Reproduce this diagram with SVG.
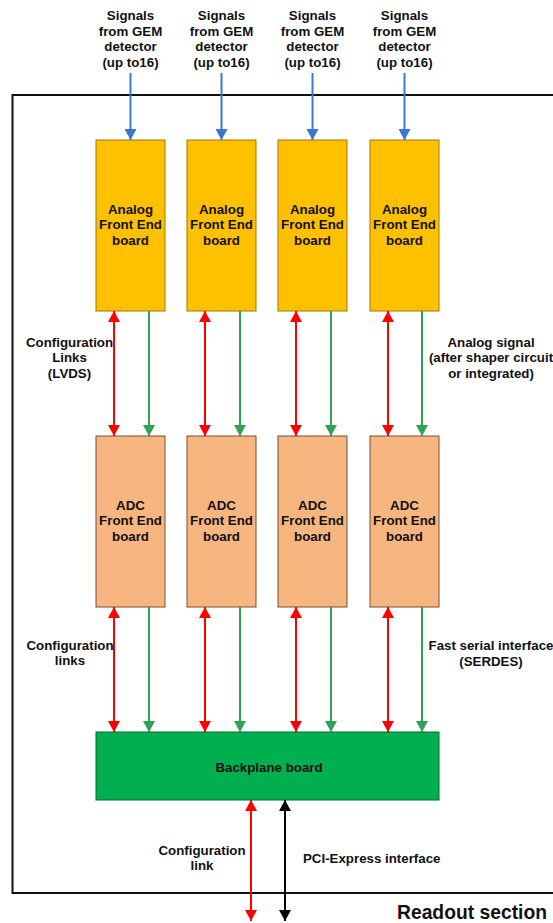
<svg xmlns="http://www.w3.org/2000/svg" width="553" height="923" viewBox="0 0 553 923">
<style>
text{font-family:"Liberation Sans",Arial,sans-serif;font-weight:bold;font-size:13.3px;fill:#111;text-anchor:middle}
.afe{fill:#FFC000;stroke:#9C7A00;stroke-width:1}
.adc{fill:#F7B580;stroke:#7A5030;stroke-width:1}
.bp{fill:#00B050;stroke:#006B30;stroke-width:1}
.red{stroke:#FF0000;stroke-width:2;fill:none}
.grn{stroke:#2EA354;stroke-width:2;fill:none}
.blu{stroke:#3A76D2;stroke-width:2;fill:none}
.blk{stroke:#000;stroke-width:2;fill:none}
</style>
<defs>
<marker id="mr" markerUnits="userSpaceOnUse" markerWidth="12" markerHeight="12" refX="11" refY="6" orient="auto-start-reverse"><path d="M0,0 L11,6 L0,12 z" fill="#FF0000"/></marker>
<marker id="mg" markerUnits="userSpaceOnUse" markerWidth="12" markerHeight="12" refX="11" refY="6" orient="auto"><path d="M0,0 L11,6 L0,12 z" fill="#2EA354"/></marker>
<marker id="mb" markerUnits="userSpaceOnUse" markerWidth="12" markerHeight="12" refX="11" refY="6" orient="auto"><path d="M0,0 L11,6 L0,12 z" fill="#3A76D2"/></marker>
<marker id="mk" markerUnits="userSpaceOnUse" markerWidth="12" markerHeight="12" refX="11" refY="6" orient="auto-start-reverse"><path d="M0,0 L11,6 L0,12 z" fill="#000"/></marker>
</defs>
<path id="frame" d="M553,95 H12.5 V893 H553" fill="none" stroke="#111" stroke-width="2"/>
<g id="afe1"><rect class="afe" x="96" y="140" width="69" height="171"/><text x="130.5" y="213.5">Analog</text><text x="130.5" y="229">Front End</text><text x="130.5" y="244.5">board</text></g>
<g id="afe2"><rect class="afe" x="187" y="140" width="69" height="171"/><text x="221.5" y="213.5">Analog</text><text x="221.5" y="229">Front End</text><text x="221.5" y="244.5">board</text></g>
<g id="afe3"><rect class="afe" x="278" y="140" width="69" height="171"/><text x="312.5" y="213.5">Analog</text><text x="312.5" y="229">Front End</text><text x="312.5" y="244.5">board</text></g>
<g id="afe4"><rect class="afe" x="370" y="140" width="69" height="171"/><text x="404.5" y="213.5">Analog</text><text x="404.5" y="229">Front End</text><text x="404.5" y="244.5">board</text></g>
<g id="adc1"><rect class="adc" x="96" y="436" width="69" height="171"/><text x="130.5" y="509.5">ADC</text><text x="130.5" y="525">Front End</text><text x="130.5" y="540.5">board</text></g>
<g id="adc2"><rect class="adc" x="187" y="436" width="69" height="171"/><text x="221.5" y="509.5">ADC</text><text x="221.5" y="525">Front End</text><text x="221.5" y="540.5">board</text></g>
<g id="adc3"><rect class="adc" x="278" y="436" width="69" height="171"/><text x="312.5" y="509.5">ADC</text><text x="312.5" y="525">Front End</text><text x="312.5" y="540.5">board</text></g>
<g id="adc4"><rect class="adc" x="370" y="436" width="69" height="171"/><text x="404.5" y="509.5">ADC</text><text x="404.5" y="525">Front End</text><text x="404.5" y="540.5">board</text></g>
<g id="backplane"><rect class="bp" x="96" y="732" width="343" height="68"/><text x="269" y="771.5">Backplane board</text></g>
<g id="signals">
<text x="130.5" y="20">Signals</text><text x="130.5" y="35.5">from GEM</text><text x="130.5" y="51">detector</text><text x="130.5" y="66.5">(up to16)</text>
<text x="221.5" y="20">Signals</text><text x="221.5" y="35.5">from GEM</text><text x="221.5" y="51">detector</text><text x="221.5" y="66.5">(up to16)</text>
<text x="312.5" y="20">Signals</text><text x="312.5" y="35.5">from GEM</text><text x="312.5" y="51">detector</text><text x="312.5" y="66.5">(up to16)</text>
<text x="404.5" y="20">Signals</text><text x="404.5" y="35.5">from GEM</text><text x="404.5" y="51">detector</text><text x="404.5" y="66.5">(up to16)</text>
</g>
<g id="connectors">
<line class="blu" x1="130.5" y1="73" x2="130.5" y2="140" marker-end="url(#mb)"/>
<line class="blu" x1="221.5" y1="73" x2="221.5" y2="140" marker-end="url(#mb)"/>
<line class="blu" x1="312.5" y1="73" x2="312.5" y2="140" marker-end="url(#mb)"/>
<line class="blu" x1="404.5" y1="73" x2="404.5" y2="140" marker-end="url(#mb)"/>
<line class="red" x1="114" y1="311" x2="114" y2="436" marker-start="url(#mr)" marker-end="url(#mr)"/>
<line class="red" x1="205" y1="311" x2="205" y2="436" marker-start="url(#mr)" marker-end="url(#mr)"/>
<line class="red" x1="296" y1="311" x2="296" y2="436" marker-start="url(#mr)" marker-end="url(#mr)"/>
<line class="red" x1="388" y1="311" x2="388" y2="436" marker-start="url(#mr)" marker-end="url(#mr)"/>
<line class="grn" x1="149" y1="311" x2="149" y2="436" marker-end="url(#mg)"/>
<line class="grn" x1="240" y1="311" x2="240" y2="436" marker-end="url(#mg)"/>
<line class="grn" x1="331" y1="311" x2="331" y2="436" marker-end="url(#mg)"/>
<line class="grn" x1="422" y1="311" x2="422" y2="436" marker-end="url(#mg)"/>
<line class="red" x1="114" y1="607" x2="114" y2="732" marker-start="url(#mr)" marker-end="url(#mr)"/>
<line class="red" x1="205" y1="607" x2="205" y2="732" marker-start="url(#mr)" marker-end="url(#mr)"/>
<line class="red" x1="296" y1="607" x2="296" y2="732" marker-start="url(#mr)" marker-end="url(#mr)"/>
<line class="red" x1="388" y1="607" x2="388" y2="732" marker-start="url(#mr)" marker-end="url(#mr)"/>
<line class="grn" x1="149" y1="607" x2="149" y2="732" marker-end="url(#mg)"/>
<line class="grn" x1="240" y1="607" x2="240" y2="732" marker-end="url(#mg)"/>
<line class="grn" x1="331" y1="607" x2="331" y2="732" marker-end="url(#mg)"/>
<line class="grn" x1="422" y1="607" x2="422" y2="732" marker-end="url(#mg)"/>
<line class="red" x1="251" y1="800" x2="251" y2="921" marker-start="url(#mr)" marker-end="url(#mr)"/>
<line class="blk" x1="285" y1="800" x2="285" y2="921" marker-start="url(#mk)" marker-end="url(#mk)"/>
</g>
<g id="labels">
<text x="69.5" y="346.5">Configuration</text><text x="69.5" y="362">Links</text><text x="69.5" y="377.5">(LVDS)</text>
<text x="491" y="346.5">Analog signal</text><text x="491" y="362">(after shaper circuit</text><text x="491" y="377.5">or integrated)</text>
<text x="70" y="649.5">Configuration</text><text x="70" y="665">links</text>
<text x="491" y="649.5">Fast serial interface</text><text x="491" y="665.5">(SERDES)</text>
<text x="202" y="855">Configuration</text><text x="202" y="870">link</text>
<text x="303" y="863" style="text-anchor:start">PCI-Express interface</text>
<text x="397" y="919" style="text-anchor:start;font-size:19.3px">Readout section</text>
</g>
</svg>
